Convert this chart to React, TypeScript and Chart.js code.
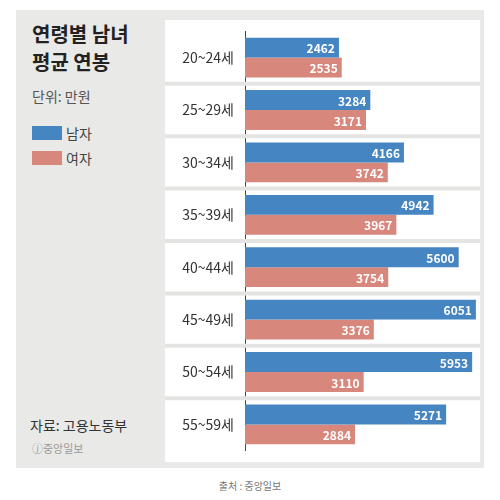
import React, { useEffect, useRef } from 'react';
import { Chart, registerables } from 'chart.js';

Chart.register(...registerables);

const ageGroups = ['20~24세', '25~29세', '30~34세', '35~39세', '40~44세', '45~49세', '50~54세', '55~59세'];
const maleSalary = [2462, 3284, 4166, 4942, 5600, 6051, 5953, 5271];
const femaleSalary = [2535, 3171, 3742, 3967, 3754, 3376, 3110, 2884];

const BLUE = '#4585c2';
const PINK = '#d8877c';
const FONT = '"Noto Sans CJK KR", "Noto Sans", sans-serif';

const barLabels = {
  id: 'barLabels',
  afterDatasetsDraw(chart: any) {
    const ctx = chart.ctx;
    ctx.save();
    ctx.font = `bold 12px ${FONT}`;
    ctx.fillStyle = '#ffffff';
    ctx.textAlign = 'right';
    ctx.textBaseline = 'middle';
    chart.data.datasets.forEach((ds: any, i: number) => {
      chart.getDatasetMeta(i).data.forEach((bar: any, j: number) => {
        ctx.fillText(String(ds.data[j]), bar.x - 4, bar.y + 1);
      });
    });
    ctx.restore();
  },
};

// row separators between categories
const rowLines = {
  id: 'rowLines',
  beforeDatasetsDraw(chart: any) {
    const { ctx, chartArea, scales } = chart;
    const y = scales.y;
    ctx.save();
    ctx.strokeStyle = '#e4e4e2';
    ctx.lineWidth = 4;
    for (let i = 0; i < ageGroups.length - 1; i++) {
      const yy = (y.getPixelForValue(i) + y.getPixelForValue(i + 1)) / 2;
      ctx.beginPath();
      ctx.moveTo(0, yy);
      ctx.lineTo(chartArea.right + 3, yy);
      ctx.stroke();
    }
    ctx.restore();
  },
};

export default function App() {
  const canvasRef = useRef<HTMLCanvasElement>(null);

  useEffect(() => {
    if (!canvasRef.current) return;
    const chart = new Chart(canvasRef.current, {
      type: 'bar',
      data: {
        labels: ageGroups,
        datasets: [
          { label: '남자', data: maleSalary, backgroundColor: BLUE, barPercentage: 1, categoryPercentage: 0.76 },
          { label: '여자', data: femaleSalary, backgroundColor: PINK, barPercentage: 1, categoryPercentage: 0.76 },
        ],
      },
      options: {
        indexAxis: 'y',
        animation: false,
        responsive: false,
        layout: { padding: { right: 3 } },
        plugins: { legend: { display: false }, tooltip: { enabled: false } },
        scales: {
          x: { display: false, min: 0, max: 6080 },
          y: {
            afterFit: (s: any) => { s.width = 80; },
            grid: { display: false },
            border: { display: true, color: '#444', width: 1 },
            ticks: { color: '#333', font: { family: FONT, size: 14 }, padding: 3 },
          },
        },
      },
      plugins: [rowLines, barLabels],
    });
    return () => chart.destroy();
  }, []);

  return (
    <div style={{ position: 'relative', width: 500, height: 500, margin: -8, background: '#fff', fontFamily: FONT }}>
      <div style={{ position: 'absolute', left: 16, top: 10, width: 468, height: 458, background: '#e9e9e7' }} />
      <div style={{ position: 'absolute', left: 165, top: 20, width: 315, height: 442, background: '#fff' }} />
      <canvas ref={canvasRef} width={315} height={442} style={{ position: 'absolute', left: 165, top: 20 }} />
      <div style={{ position: 'absolute', left: 32, top: 20, fontSize: 20, fontWeight: 'bold', lineHeight: '28px', color: '#222' }}>
        연령별 남녀<br />평균 연봉
      </div>
      <div style={{ position: 'absolute', left: 32, top: 86, fontSize: 14, color: '#555' }}>단위: 만원</div>
      <div style={{ position: 'absolute', left: 32, top: 123, display: 'flex', alignItems: 'center', fontSize: 14, color: '#444' }}>
        <span style={{ width: 30, height: 14, background: BLUE, marginRight: 4 }} />남자
      </div>
      <div style={{ position: 'absolute', left: 32, top: 148, display: 'flex', alignItems: 'center', fontSize: 14, color: '#444' }}>
        <span style={{ width: 30, height: 14, background: PINK, marginRight: 4 }} />여자
      </div>
      <div style={{ position: 'absolute', left: 30, top: 415, fontSize: 14, color: '#333' }}>자료: 고용노동부</div>
      <div style={{ position: 'absolute', left: 32, top: 440, fontSize: 11, color: '#999' }}>ⓙ중앙일보</div>
      <div style={{ position: 'absolute', left: 0, width: 500, top: 478, textAlign: 'center', fontSize: 10, color: '#777' }}>출처 : 중앙일보</div>
    </div>
  );
}
